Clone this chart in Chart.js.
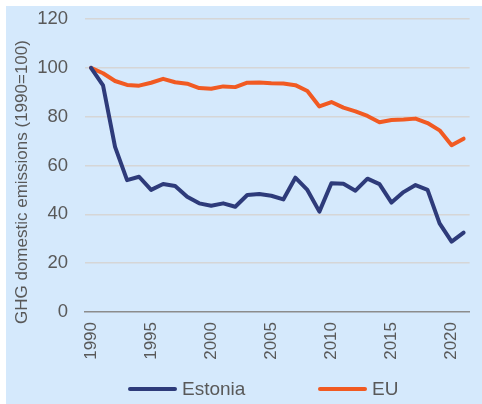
<!DOCTYPE html>
<html>
<head>
<meta charset="utf-8">
<script src="https://cdn.jsdelivr.net/npm/chart.js@4"></script>
<style>
  body { margin: 0; background: #fff; width: 482px; height: 404px; overflow: hidden; }
  #box { position: absolute; left: 6px; top: 6px; width: 476px; height: 398px; background: #d5e9fc; }
  #legende { position: absolute; left: 0; top: 0; width: 482px; height: 404px; pointer-events: none;
    font-family: "Liberation Sans", Arial, sans-serif; font-size: 19px; color: #595959; }
  .item { position: absolute; top: 379px; display: flex; align-items: center; line-height: 20px; }
  .item span.trait { display: inline-block; width: 49px; height: 4px; border-radius: 2px; margin-right: 5px; }
</style>
</head>
<body>
<div id="box"><canvas id="graph" width="476" height="398"></canvas></div>
<div id="legende"></div>
<script>
// Données : émissions GES domestiques (1990 = 100)
const annees = [1990, 1991, 1992, 1993, 1994, 1995, 1996, 1997, 1998, 1999,
  2000, 2001, 2002, 2003, 2004, 2005, 2006, 2007, 2008, 2009,
  2010, 2011, 2012, 2013, 2014, 2015, 2016, 2017, 2018, 2019, 2020, 2021];
const estonie = [100, 92.8, 67.6, 54, 55.4, 50, 52.4, 51.6, 47.2, 44.5,
  43.5, 44.5, 43.1, 47.9, 48.3, 47.6, 46.1, 55, 50, 41.1,
  52.7, 52.5, 49.7, 54.6, 52.4, 44.8, 49.1, 52, 50, 36.3, 28.8, 32.5];
const ue = [100, 97.8, 94.6, 93, 92.7, 93.9, 95.5, 94.1, 93.5, 91.7,
  91.4, 92.4, 92.1, 93.9, 94, 93.7, 93.6, 92.9, 90.5, 84.2,
  86, 83.7, 82.2, 80.3, 77.7, 78.6, 78.8, 79.2, 77.4, 74.4, 68.3, 71];
const series = ["Estonia", "EU"];
const couleurs = ["#2e3b7a", "#f15a22"];
const ticksY = [0, 20, 40, 60, 80, 100, 120];

const police = "'Liberation Sans', Arial, sans-serif";
const gris = "#595959";

const ctx = document.getElementById("graph").getContext("2d");
const graph = new Chart(ctx, {
  type: 'line',
  data: {
    labels: annees,
    datasets: [estonie, ue].map((d, i) => ({
      label: series[i], data: d,
      borderColor: couleurs[i], backgroundColor: couleurs[i],
      borderWidth: 4, pointRadius: 0, tension: 0,
      borderJoinStyle: 'round', borderCapStyle: 'round'
    }))
  },
  options: {
    responsive: false, animation: false,
    layout: { padding: { top: 13, right: 0, left: 0, bottom: 0 } },
    plugins: { legend: { display: false }, tooltip: { enabled: false } },
    scales: {
      x: {
        offset: true,
        grid: { display: false, drawTicks: false },
        border: { display: true, color: '#8c8c8c', width: 1.5 },
        ticks: {
          autoSkip: false, minRotation: 90, maxRotation: 90, padding: 10,
          color: gris, font: { family: police, size: 17 },
          callback: function (v) {
            const a = annees[v];
            return a % 5 === 0 ? String(a) : null;
          }
        },
        afterFit: s => { s.height = 92; }
      },
      y: {
        min: ticksY[0], max: ticksY[ticksY.length - 1],
        afterBuildTicks: s => { s.ticks = ticksY.map(v => ({ value: v })); },
        grid: {
          color: c => c.tick.value === 0 ? 'rgba(0,0,0,0)' : '#d6d6d6', lineWidth: 1.5,
          drawTicks: true, tickLength: 17, tickColor: 'rgba(0,0,0,0)'
        },
        border: { display: false },
        ticks: { padding: 0, color: gris, font: { family: police, size: 18.5 } },
        title: {
          display: true, text: 'GHG domestic emissions (1990=100)       ',
          color: gris, font: { family: police, size: 17 }, padding: { top: 6, bottom: 0 }
        },
        afterFit: s => { s.width = 79; }
      }
    }
  }
});

// Légende HTML construite à partir des jeux de données
const positions = [128, 318];
const legende = document.getElementById("legende");
graph.data.datasets.forEach((ds, i) => {
  const el = document.createElement("div");
  el.className = "item";
  el.style.left = positions[i] + "px";
  el.innerHTML = `<span class="trait" style="background:${ds.borderColor}"></span><span>${ds.label}</span>`;
  legende.appendChild(el);
});
</script>
</body>
</html>
